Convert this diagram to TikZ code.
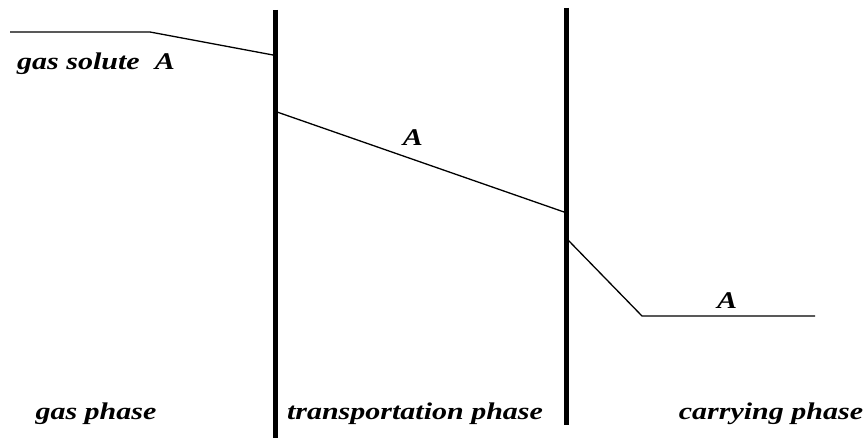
\documentclass[tikz,border=0pt]{standalone}
\usepackage{fontspec}
\newfontfamily\phasefont[FakeStretch=1.25]{Liberation Serif}

\begin{document}
\begin{tikzpicture}[x=1pt, y=-1pt,
                    wall/.style={line width=5pt},
                    conc/.style={line width=1.3pt},
                    lbl/.style={font=\phasefont\bfseries\itshape\fontsize{24}{26}\selectfont, inner sep=0pt, anchor=base}]
                    \useasboundingbox (0,0) rectangle (868,438);

                    % interfaces
                    \coordinate (w1t) at (275,10);
                    \coordinate (w1b) at (275,438);
                    \coordinate (w2t) at (566,8);
                    \coordinate (w2b) at (566,425);

                    % concentration of A
                    \coordinate (g0) at (10,32);
                    \coordinate (g1) at (150,32);
                    \coordinate (g2) at (273,55);
                    \coordinate (t0) at (277,112);
                    \coordinate (t1) at (564,212);
                    \coordinate (c0) at (568,240);
                    \coordinate (c1) at (642,316);
                    \coordinate (c2) at (815,316);

                    \draw[wall] (w1t) -- (w1b);
                    \draw[wall] (w2t) -- (w2b);

                    \draw[conc] (g0) -- (g1) -- (g2);
                    \draw[conc] (t0) -- (t1);
                    \draw[conc] (c0) -- (c1) -- (c2);

                    \node[lbl] (solute) at (96,70) {gas solute\ \ A};
                    \node[lbl] (tA) at (413,146) {A};
                    \node[lbl] (cA) at (727,309) {A};

                    \node[lbl] (gasph) at (96,419) {gas phase};
                    \node[lbl] (transph) at (415,419) {transportation phase};
                    \node[lbl] (carryph) at (771,419) {carrying phase};
\end{tikzpicture}
\end{document}
